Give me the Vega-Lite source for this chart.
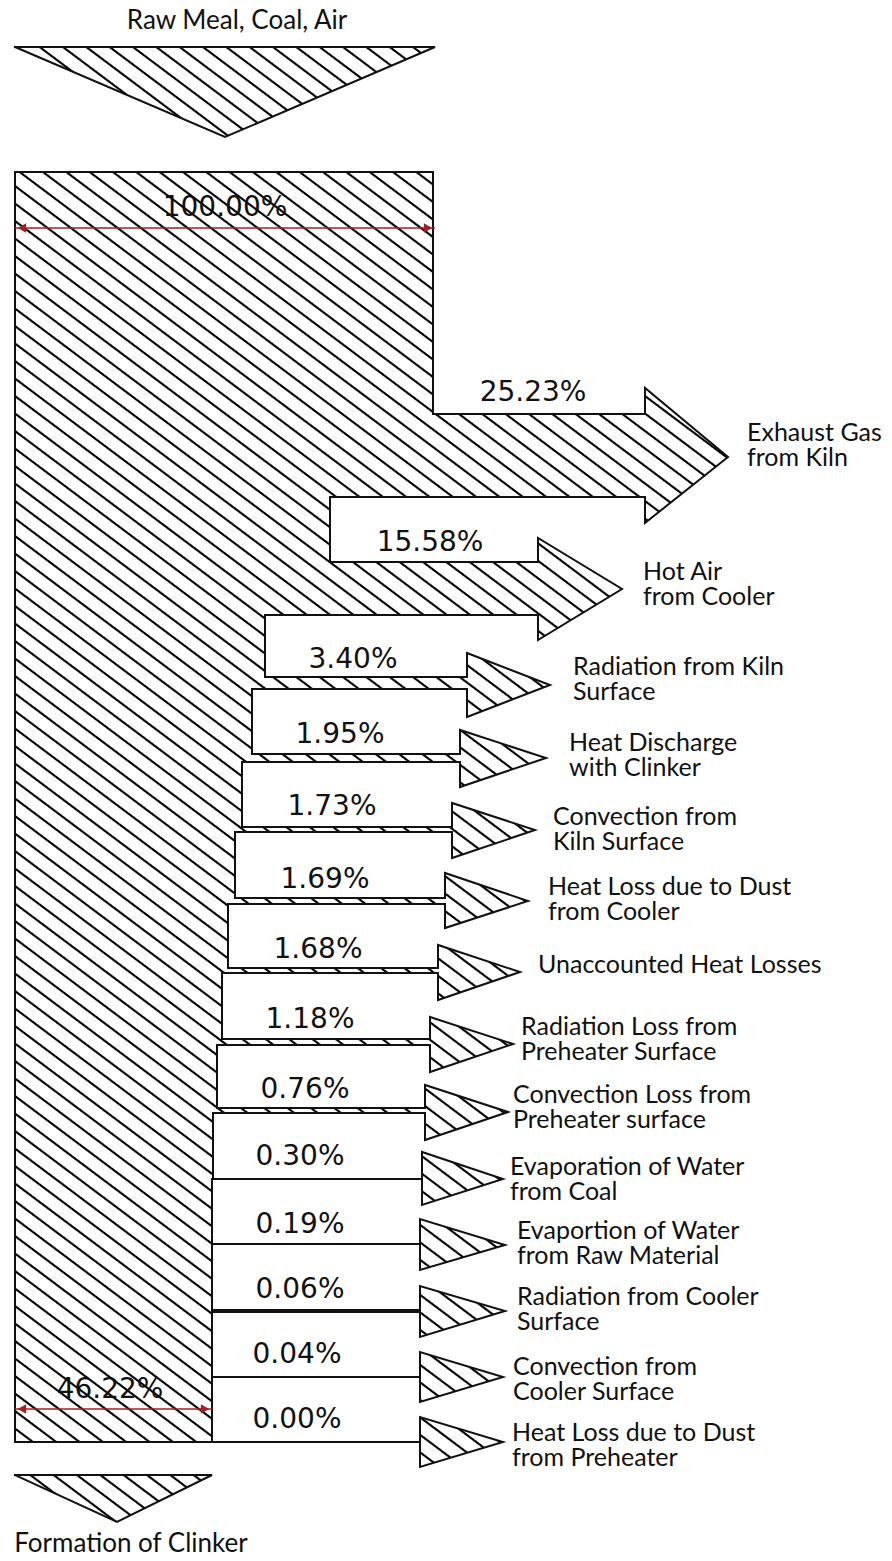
{
"$schema": "https://vega.github.io/schema/vega-lite/v6.json",
"width": 892,
"height": 1561,
"autosize": {"type": "none"},
"padding": 0,
"background": "white",
"config": {"view": {"stroke": null}},
"datasets": {
"outline": [
{"seq":1,"part":"input","px":15,"py":47},{"seq":2,"part":"input","px":435,"py":47},{"seq":3,"part":"input","px":225,"py":137},{"seq":4,"part":"input","px":15,"py":47},
{"seq":5,"part":"gap","px":null,"py":null},
{"seq":6,"part":"kiln","px":15,"py":172},{"seq":7,"part":"kiln","px":433,"py":172},{"seq":8,"part":"kiln","px":433,"py":414},{"seq":9,"part":"kiln","px":645,"py":414},{"seq":10,"part":"kiln","px":645,"py":388},{"seq":11,"part":"kiln","px":728,"py":457},{"seq":12,"part":"kiln","px":645,"py":523},{"seq":13,"part":"kiln","px":645,"py":497},
{"seq":14,"part":"kiln","px":330,"py":497},{"seq":15,"part":"kiln","px":330,"py":562},{"seq":16,"part":"kiln","px":538,"py":562},{"seq":17,"part":"kiln","px":538,"py":538},{"seq":18,"part":"kiln","px":622,"py":589},{"seq":19,"part":"kiln","px":538,"py":640},{"seq":20,"part":"kiln","px":538,"py":615},
{"seq":21,"part":"kiln","px":265,"py":615},{"seq":22,"part":"kiln","px":265,"py":677},{"seq":23,"part":"kiln","px":467,"py":677},{"seq":24,"part":"kiln","px":467,"py":653},{"seq":25,"part":"kiln","px":550,"py":685},{"seq":26,"part":"kiln","px":467,"py":717},{"seq":27,"part":"kiln","px":467,"py":689},
{"seq":28,"part":"kiln","px":252,"py":689},{"seq":29,"part":"kiln","px":252,"py":754},{"seq":30,"part":"kiln","px":460,"py":754},{"seq":31,"part":"kiln","px":460,"py":730},{"seq":32,"part":"kiln","px":546,"py":758},{"seq":33,"part":"kiln","px":460,"py":787},{"seq":34,"part":"kiln","px":460,"py":762},
{"seq":35,"part":"kiln","px":242,"py":762},{"seq":36,"part":"kiln","px":242,"py":827},{"seq":37,"part":"kiln","px":452,"py":827},{"seq":38,"part":"kiln","px":452,"py":803},{"seq":39,"part":"kiln","px":535,"py":830},{"seq":40,"part":"kiln","px":452,"py":858},{"seq":41,"part":"kiln","px":452,"py":832},
{"seq":42,"part":"kiln","px":235,"py":832},{"seq":43,"part":"kiln","px":235,"py":898},{"seq":44,"part":"kiln","px":445,"py":898},{"seq":45,"part":"kiln","px":445,"py":873},{"seq":46,"part":"kiln","px":528,"py":901},{"seq":47,"part":"kiln","px":445,"py":928},{"seq":48,"part":"kiln","px":445,"py":904},
{"seq":49,"part":"kiln","px":228,"py":904},{"seq":50,"part":"kiln","px":228,"py":968},{"seq":51,"part":"kiln","px":438,"py":968},{"seq":52,"part":"kiln","px":438,"py":945},{"seq":53,"part":"kiln","px":520,"py":972},{"seq":54,"part":"kiln","px":438,"py":1000},{"seq":55,"part":"kiln","px":438,"py":973},
{"seq":56,"part":"kiln","px":222,"py":973},{"seq":57,"part":"kiln","px":222,"py":1039},{"seq":58,"part":"kiln","px":430,"py":1039},{"seq":59,"part":"kiln","px":430,"py":1017},{"seq":60,"part":"kiln","px":513,"py":1044},{"seq":61,"part":"kiln","px":430,"py":1072},{"seq":62,"part":"kiln","px":430,"py":1045},
{"seq":63,"part":"kiln","px":217,"py":1045},{"seq":64,"part":"kiln","px":217,"py":1108},{"seq":65,"part":"kiln","px":425,"py":1108},{"seq":66,"part":"kiln","px":425,"py":1085},{"seq":67,"part":"kiln","px":508,"py":1112},{"seq":68,"part":"kiln","px":425,"py":1140},{"seq":69,"part":"kiln","px":425,"py":1113},
{"seq":70,"part":"kiln","px":213,"py":1113},{"seq":71,"part":"kiln","px":213,"py":1179},{"seq":72,"part":"kiln","px":422,"py":1179},{"seq":73,"part":"kiln","px":422,"py":1152},{"seq":74,"part":"kiln","px":503,"py":1179},{"seq":75,"part":"kiln","px":422,"py":1205},{"seq":76,"part":"kiln","px":422,"py":1179},
{"seq":77,"part":"kiln","px":212,"py":1179},{"seq":78,"part":"kiln","px":212,"py":1244},{"seq":79,"part":"kiln","px":420,"py":1244},{"seq":80,"part":"kiln","px":420,"py":1219},{"seq":81,"part":"kiln","px":505,"py":1245},{"seq":82,"part":"kiln","px":420,"py":1270},{"seq":83,"part":"kiln","px":420,"py":1244},
{"seq":84,"part":"kiln","px":212,"py":1244},{"seq":85,"part":"kiln","px":212,"py":1310},{"seq":86,"part":"kiln","px":420,"py":1310},{"seq":87,"part":"kiln","px":420,"py":1286},{"seq":88,"part":"kiln","px":505,"py":1311},{"seq":89,"part":"kiln","px":420,"py":1337},{"seq":90,"part":"kiln","px":420,"py":1312},
{"seq":91,"part":"kiln","px":212,"py":1312},{"seq":92,"part":"kiln","px":212,"py":1377},{"seq":93,"part":"kiln","px":420,"py":1377},{"seq":94,"part":"kiln","px":420,"py":1352},{"seq":95,"part":"kiln","px":503,"py":1377},{"seq":96,"part":"kiln","px":420,"py":1402},{"seq":97,"part":"kiln","px":420,"py":1377},
{"seq":98,"part":"kiln","px":212,"py":1377},{"seq":99,"part":"kiln","px":212,"py":1442},{"seq":100,"part":"kiln","px":420,"py":1442},{"seq":101,"part":"kiln","px":420,"py":1417},{"seq":102,"part":"kiln","px":503,"py":1442},{"seq":103,"part":"kiln","px":420,"py":1467},{"seq":104,"part":"kiln","px":420,"py":1442},
{"seq":105,"part":"kiln","px":15,"py":1442},{"seq":106,"part":"kiln","px":15,"py":172},
{"seq":107,"part":"gap","px":null,"py":null},
{"seq":108,"part":"clinker","px":15,"py":1475},{"seq":109,"part":"clinker","px":212,"py":1475},{"seq":110,"part":"clinker","px":117,"py":1522},{"seq":111,"part":"clinker","px":15,"py":1475}
],
"flows": [
{"flow":"Exhaust Gas from Kiln","share":25.23,"label":"25.23%","vx":533,"vy":393,"name":["Exhaust Gas","from Kiln"],"lx":747,"ly":433},
{"flow":"Hot Air from Cooler","share":15.58,"label":"15.58%","vx":430,"vy":543,"name":["Hot Air","from Cooler"],"lx":643,"ly":572},
{"flow":"Radiation from Kiln Surface","share":3.40,"label":"3.40%","vx":353,"vy":660,"name":["Radiation from Kiln","Surface"],"lx":573,"ly":667},
{"flow":"Heat Discharge with Clinker","share":1.95,"label":"1.95%","vx":340,"vy":735,"name":["Heat Discharge","with Clinker"],"lx":569,"ly":743},
{"flow":"Convection from Kiln Surface","share":1.73,"label":"1.73%","vx":332,"vy":807,"name":["Convection from","Kiln Surface"],"lx":553,"ly":817},
{"flow":"Heat Loss due to Dust from Cooler","share":1.69,"label":"1.69%","vx":325,"vy":880,"name":["Heat Loss due to Dust","from Cooler"],"lx":548,"ly":887},
{"flow":"Unaccounted Heat Losses","share":1.68,"label":"1.68%","vx":318,"vy":950,"name":["Unaccounted Heat Losses"],"lx":538,"ly":965},
{"flow":"Radiation Loss from Preheater Surface","share":1.18,"label":"1.18%","vx":310,"vy":1020,"name":["Radiation Loss from","Preheater Surface"],"lx":521,"ly":1027},
{"flow":"Convection Loss from Preheater surface","share":0.76,"label":"0.76%","vx":305,"vy":1090,"name":["Convection Loss from","Preheater surface"],"lx":513,"ly":1095},
{"flow":"Evaporation of Water from Coal","share":0.30,"label":"0.30%","vx":300,"vy":1157,"name":["Evaporation of Water","from Coal"],"lx":510,"ly":1167},
{"flow":"Evaportion of Water from Raw Material","share":0.19,"label":"0.19%","vx":300,"vy":1225,"name":["Evaportion of Water","from Raw Material"],"lx":517,"ly":1231},
{"flow":"Radiation from Cooler Surface","share":0.06,"label":"0.06%","vx":300,"vy":1290,"name":["Radiation from Cooler","Surface"],"lx":517,"ly":1297},
{"flow":"Convection from Cooler Surface","share":0.04,"label":"0.04%","vx":297,"vy":1355,"name":["Convection from","Cooler Surface"],"lx":513,"ly":1367},
{"flow":"Heat Loss due to Dust from Preheater","share":0.00,"label":"0.00%","vx":297,"vy":1420,"name":["Heat Loss due to Dust","from Preheater"],"lx":512,"ly":1433}
],
"totals": [
{"stage":"Raw Meal, Coal, Air","share":100.00,"label":"100.00%","vx":225,"vy":208,"x0":15,"x1":435,"dy":228,"caption":"Raw Meal, Coal, Air","cx":237,"cy":21},
{"stage":"Formation of Clinker","share":46.22,"label":"46.22%","vx":110,"vy":1390,"x0":15,"x1":212,"dy":1409,"caption":"Formation of Clinker","cx":131,"cy":1544}
]
},
"layer": [
{
"data": {"name": "outline"},
"mark": {"type": "line", "stroke": "#111111", "strokeWidth": 2, "strokeJoin": "miter", "strokeCap": "square", "invalid": "break-paths-filter-domains",
"fill": {"gradient": "linear", "x1": 1, "y1": 0, "x2": 0.5248, "y2": 1.3108, "stops": [
{"offset":0.0031,"color":"#fff"},{"offset":0.0037,"color":"#000"},{"offset":0.0043,"color":"#000"},{"offset":0.0049,"color":"#fff"},
{"offset":0.0111,"color":"#fff"},{"offset":0.0117,"color":"#000"},{"offset":0.0123,"color":"#000"},{"offset":0.0129,"color":"#fff"},
{"offset":0.0191,"color":"#fff"},{"offset":0.0197,"color":"#000"},{"offset":0.0203,"color":"#000"},{"offset":0.0209,"color":"#fff"},
{"offset":0.0271,"color":"#fff"},{"offset":0.0277,"color":"#000"},{"offset":0.0283,"color":"#000"},{"offset":0.0289,"color":"#fff"},
{"offset":0.0351,"color":"#fff"},{"offset":0.0357,"color":"#000"},{"offset":0.0363,"color":"#000"},{"offset":0.0369,"color":"#fff"},
{"offset":0.0431,"color":"#fff"},{"offset":0.0437,"color":"#000"},{"offset":0.0443,"color":"#000"},{"offset":0.0449,"color":"#fff"},
{"offset":0.0511,"color":"#fff"},{"offset":0.0517,"color":"#000"},{"offset":0.0523,"color":"#000"},{"offset":0.0529,"color":"#fff"},
{"offset":0.0591,"color":"#fff"},{"offset":0.0597,"color":"#000"},{"offset":0.0603,"color":"#000"},{"offset":0.0609,"color":"#fff"},
{"offset":0.0671,"color":"#fff"},{"offset":0.0677,"color":"#000"},{"offset":0.0683,"color":"#000"},{"offset":0.0689,"color":"#fff"},
{"offset":0.0751,"color":"#fff"},{"offset":0.0757,"color":"#000"},{"offset":0.0763,"color":"#000"},{"offset":0.0769,"color":"#fff"},
{"offset":0.0831,"color":"#fff"},{"offset":0.0837,"color":"#000"},{"offset":0.0843,"color":"#000"},{"offset":0.0849,"color":"#fff"},
{"offset":0.0911,"color":"#fff"},{"offset":0.0917,"color":"#000"},{"offset":0.0923,"color":"#000"},{"offset":0.0929,"color":"#fff"},
{"offset":0.0991,"color":"#fff"},{"offset":0.0997,"color":"#000"},{"offset":0.1003,"color":"#000"},{"offset":0.1009,"color":"#fff"},
{"offset":0.1071,"color":"#fff"},{"offset":0.1077,"color":"#000"},{"offset":0.1083,"color":"#000"},{"offset":0.1089,"color":"#fff"},
{"offset":0.1151,"color":"#fff"},{"offset":0.1157,"color":"#000"},{"offset":0.1163,"color":"#000"},{"offset":0.1169,"color":"#fff"},
{"offset":0.1231,"color":"#fff"},{"offset":0.1237,"color":"#000"},{"offset":0.1243,"color":"#000"},{"offset":0.1249,"color":"#fff"},
{"offset":0.1311,"color":"#fff"},{"offset":0.1317,"color":"#000"},{"offset":0.1323,"color":"#000"},{"offset":0.1329,"color":"#fff"},
{"offset":0.1391,"color":"#fff"},{"offset":0.1397,"color":"#000"},{"offset":0.1403,"color":"#000"},{"offset":0.1409,"color":"#fff"},
{"offset":0.1471,"color":"#fff"},{"offset":0.1477,"color":"#000"},{"offset":0.1483,"color":"#000"},{"offset":0.1489,"color":"#fff"},
{"offset":0.1551,"color":"#fff"},{"offset":0.1557,"color":"#000"},{"offset":0.1563,"color":"#000"},{"offset":0.1569,"color":"#fff"},
{"offset":0.1631,"color":"#fff"},{"offset":0.1637,"color":"#000"},{"offset":0.1643,"color":"#000"},{"offset":0.1649,"color":"#fff"},
{"offset":0.1711,"color":"#fff"},{"offset":0.1717,"color":"#000"},{"offset":0.1723,"color":"#000"},{"offset":0.1729,"color":"#fff"},
{"offset":0.1791,"color":"#fff"},{"offset":0.1797,"color":"#000"},{"offset":0.1803,"color":"#000"},{"offset":0.1809,"color":"#fff"},
{"offset":0.1871,"color":"#fff"},{"offset":0.1877,"color":"#000"},{"offset":0.1883,"color":"#000"},{"offset":0.1889,"color":"#fff"},
{"offset":0.1951,"color":"#fff"},{"offset":0.1957,"color":"#000"},{"offset":0.1963,"color":"#000"},{"offset":0.1969,"color":"#fff"},
{"offset":0.2031,"color":"#fff"},{"offset":0.2037,"color":"#000"},{"offset":0.2043,"color":"#000"},{"offset":0.2049,"color":"#fff"},
{"offset":0.2111,"color":"#fff"},{"offset":0.2117,"color":"#000"},{"offset":0.2123,"color":"#000"},{"offset":0.2129,"color":"#fff"},
{"offset":0.2191,"color":"#fff"},{"offset":0.2197,"color":"#000"},{"offset":0.2203,"color":"#000"},{"offset":0.2209,"color":"#fff"},
{"offset":0.2271,"color":"#fff"},{"offset":0.2277,"color":"#000"},{"offset":0.2283,"color":"#000"},{"offset":0.2289,"color":"#fff"},
{"offset":0.2351,"color":"#fff"},{"offset":0.2357,"color":"#000"},{"offset":0.2363,"color":"#000"},{"offset":0.2369,"color":"#fff"},
{"offset":0.2431,"color":"#fff"},{"offset":0.2437,"color":"#000"},{"offset":0.2443,"color":"#000"},{"offset":0.2449,"color":"#fff"},
{"offset":0.2511,"color":"#fff"},{"offset":0.2517,"color":"#000"},{"offset":0.2523,"color":"#000"},{"offset":0.2529,"color":"#fff"},
{"offset":0.2591,"color":"#fff"},{"offset":0.2597,"color":"#000"},{"offset":0.2603,"color":"#000"},{"offset":0.2609,"color":"#fff"},
{"offset":0.2671,"color":"#fff"},{"offset":0.2677,"color":"#000"},{"offset":0.2683,"color":"#000"},{"offset":0.2689,"color":"#fff"},
{"offset":0.2751,"color":"#fff"},{"offset":0.2757,"color":"#000"},{"offset":0.2763,"color":"#000"},{"offset":0.2769,"color":"#fff"},
{"offset":0.2831,"color":"#fff"},{"offset":0.2837,"color":"#000"},{"offset":0.2843,"color":"#000"},{"offset":0.2849,"color":"#fff"},
{"offset":0.2911,"color":"#fff"},{"offset":0.2917,"color":"#000"},{"offset":0.2923,"color":"#000"},{"offset":0.2929,"color":"#fff"},
{"offset":0.2991,"color":"#fff"},{"offset":0.2997,"color":"#000"},{"offset":0.3003,"color":"#000"},{"offset":0.3009,"color":"#fff"},
{"offset":0.3071,"color":"#fff"},{"offset":0.3077,"color":"#000"},{"offset":0.3083,"color":"#000"},{"offset":0.3089,"color":"#fff"},
{"offset":0.3151,"color":"#fff"},{"offset":0.3157,"color":"#000"},{"offset":0.3163,"color":"#000"},{"offset":0.3169,"color":"#fff"},
{"offset":0.3231,"color":"#fff"},{"offset":0.3237,"color":"#000"},{"offset":0.3243,"color":"#000"},{"offset":0.3249,"color":"#fff"},
{"offset":0.3311,"color":"#fff"},{"offset":0.3317,"color":"#000"},{"offset":0.3323,"color":"#000"},{"offset":0.3329,"color":"#fff"},
{"offset":0.3391,"color":"#fff"},{"offset":0.3397,"color":"#000"},{"offset":0.3403,"color":"#000"},{"offset":0.3409,"color":"#fff"},
{"offset":0.3471,"color":"#fff"},{"offset":0.3477,"color":"#000"},{"offset":0.3483,"color":"#000"},{"offset":0.3489,"color":"#fff"},
{"offset":0.3551,"color":"#fff"},{"offset":0.3557,"color":"#000"},{"offset":0.3563,"color":"#000"},{"offset":0.3569,"color":"#fff"},
{"offset":0.3631,"color":"#fff"},{"offset":0.3637,"color":"#000"},{"offset":0.3643,"color":"#000"},{"offset":0.3649,"color":"#fff"},
{"offset":0.3711,"color":"#fff"},{"offset":0.3717,"color":"#000"},{"offset":0.3723,"color":"#000"},{"offset":0.3729,"color":"#fff"},
{"offset":0.3791,"color":"#fff"},{"offset":0.3797,"color":"#000"},{"offset":0.3803,"color":"#000"},{"offset":0.3809,"color":"#fff"},
{"offset":0.3871,"color":"#fff"},{"offset":0.3877,"color":"#000"},{"offset":0.3883,"color":"#000"},{"offset":0.3889,"color":"#fff"},
{"offset":0.3951,"color":"#fff"},{"offset":0.3957,"color":"#000"},{"offset":0.3963,"color":"#000"},{"offset":0.3969,"color":"#fff"},
{"offset":0.4031,"color":"#fff"},{"offset":0.4037,"color":"#000"},{"offset":0.4043,"color":"#000"},{"offset":0.4049,"color":"#fff"},
{"offset":0.4111,"color":"#fff"},{"offset":0.4117,"color":"#000"},{"offset":0.4123,"color":"#000"},{"offset":0.4129,"color":"#fff"},
{"offset":0.4191,"color":"#fff"},{"offset":0.4197,"color":"#000"},{"offset":0.4203,"color":"#000"},{"offset":0.4209,"color":"#fff"},
{"offset":0.4271,"color":"#fff"},{"offset":0.4277,"color":"#000"},{"offset":0.4283,"color":"#000"},{"offset":0.4289,"color":"#fff"},
{"offset":0.4351,"color":"#fff"},{"offset":0.4357,"color":"#000"},{"offset":0.4363,"color":"#000"},{"offset":0.4369,"color":"#fff"},
{"offset":0.4431,"color":"#fff"},{"offset":0.4437,"color":"#000"},{"offset":0.4443,"color":"#000"},{"offset":0.4449,"color":"#fff"},
{"offset":0.4511,"color":"#fff"},{"offset":0.4517,"color":"#000"},{"offset":0.4523,"color":"#000"},{"offset":0.4529,"color":"#fff"},
{"offset":0.4591,"color":"#fff"},{"offset":0.4597,"color":"#000"},{"offset":0.4603,"color":"#000"},{"offset":0.4609,"color":"#fff"},
{"offset":0.4671,"color":"#fff"},{"offset":0.4677,"color":"#000"},{"offset":0.4683,"color":"#000"},{"offset":0.4689,"color":"#fff"},
{"offset":0.4751,"color":"#fff"},{"offset":0.4757,"color":"#000"},{"offset":0.4763,"color":"#000"},{"offset":0.4769,"color":"#fff"},
{"offset":0.4831,"color":"#fff"},{"offset":0.4837,"color":"#000"},{"offset":0.4843,"color":"#000"},{"offset":0.4849,"color":"#fff"},
{"offset":0.4911,"color":"#fff"},{"offset":0.4917,"color":"#000"},{"offset":0.4923,"color":"#000"},{"offset":0.4929,"color":"#fff"},
{"offset":0.4991,"color":"#fff"},{"offset":0.4997,"color":"#000"},{"offset":0.5003,"color":"#000"},{"offset":0.5009,"color":"#fff"},
{"offset":0.5071,"color":"#fff"},{"offset":0.5077,"color":"#000"},{"offset":0.5083,"color":"#000"},{"offset":0.5089,"color":"#fff"},
{"offset":0.5151,"color":"#fff"},{"offset":0.5157,"color":"#000"},{"offset":0.5163,"color":"#000"},{"offset":0.5169,"color":"#fff"},
{"offset":0.5231,"color":"#fff"},{"offset":0.5237,"color":"#000"},{"offset":0.5243,"color":"#000"},{"offset":0.5249,"color":"#fff"},
{"offset":0.5311,"color":"#fff"},{"offset":0.5317,"color":"#000"},{"offset":0.5323,"color":"#000"},{"offset":0.5329,"color":"#fff"},
{"offset":0.5391,"color":"#fff"},{"offset":0.5397,"color":"#000"},{"offset":0.5403,"color":"#000"},{"offset":0.5409,"color":"#fff"},
{"offset":0.5471,"color":"#fff"},{"offset":0.5477,"color":"#000"},{"offset":0.5483,"color":"#000"},{"offset":0.5489,"color":"#fff"},
{"offset":0.5551,"color":"#fff"},{"offset":0.5557,"color":"#000"},{"offset":0.5563,"color":"#000"},{"offset":0.5569,"color":"#fff"},
{"offset":0.5631,"color":"#fff"},{"offset":0.5637,"color":"#000"},{"offset":0.5643,"color":"#000"},{"offset":0.5649,"color":"#fff"},
{"offset":0.5711,"color":"#fff"},{"offset":0.5717,"color":"#000"},{"offset":0.5723,"color":"#000"},{"offset":0.5729,"color":"#fff"},
{"offset":0.5791,"color":"#fff"},{"offset":0.5797,"color":"#000"},{"offset":0.5803,"color":"#000"},{"offset":0.5809,"color":"#fff"},
{"offset":0.5871,"color":"#fff"},{"offset":0.5877,"color":"#000"},{"offset":0.5883,"color":"#000"},{"offset":0.5889,"color":"#fff"},
{"offset":0.5951,"color":"#fff"},{"offset":0.5957,"color":"#000"},{"offset":0.5963,"color":"#000"},{"offset":0.5969,"color":"#fff"},
{"offset":0.6031,"color":"#fff"},{"offset":0.6037,"color":"#000"},{"offset":0.6043,"color":"#000"},{"offset":0.6049,"color":"#fff"},
{"offset":0.6111,"color":"#fff"},{"offset":0.6117,"color":"#000"},{"offset":0.6123,"color":"#000"},{"offset":0.6129,"color":"#fff"},
{"offset":0.6191,"color":"#fff"},{"offset":0.6197,"color":"#000"},{"offset":0.6203,"color":"#000"},{"offset":0.6209,"color":"#fff"},
{"offset":0.6271,"color":"#fff"},{"offset":0.6277,"color":"#000"},{"offset":0.6283,"color":"#000"},{"offset":0.6289,"color":"#fff"},
{"offset":0.6351,"color":"#fff"},{"offset":0.6357,"color":"#000"},{"offset":0.6363,"color":"#000"},{"offset":0.6369,"color":"#fff"},
{"offset":0.6431,"color":"#fff"},{"offset":0.6437,"color":"#000"},{"offset":0.6443,"color":"#000"},{"offset":0.6449,"color":"#fff"},
{"offset":0.6511,"color":"#fff"},{"offset":0.6517,"color":"#000"},{"offset":0.6523,"color":"#000"},{"offset":0.6529,"color":"#fff"},
{"offset":0.6591,"color":"#fff"},{"offset":0.6597,"color":"#000"},{"offset":0.6603,"color":"#000"},{"offset":0.6609,"color":"#fff"},
{"offset":0.6671,"color":"#fff"},{"offset":0.6677,"color":"#000"},{"offset":0.6683,"color":"#000"},{"offset":0.6689,"color":"#fff"},
{"offset":0.6751,"color":"#fff"},{"offset":0.6757,"color":"#000"},{"offset":0.6763,"color":"#000"},{"offset":0.6769,"color":"#fff"},
{"offset":0.6831,"color":"#fff"},{"offset":0.6837,"color":"#000"},{"offset":0.6843,"color":"#000"},{"offset":0.6849,"color":"#fff"},
{"offset":0.6911,"color":"#fff"},{"offset":0.6917,"color":"#000"},{"offset":0.6923,"color":"#000"},{"offset":0.6929,"color":"#fff"},
{"offset":0.6991,"color":"#fff"},{"offset":0.6997,"color":"#000"},{"offset":0.7003,"color":"#000"},{"offset":0.7009,"color":"#fff"},
{"offset":0.7071,"color":"#fff"},{"offset":0.7077,"color":"#000"},{"offset":0.7083,"color":"#000"},{"offset":0.7089,"color":"#fff"},
{"offset":0.7151,"color":"#fff"},{"offset":0.7157,"color":"#000"},{"offset":0.7163,"color":"#000"},{"offset":0.7169,"color":"#fff"},
{"offset":0.7231,"color":"#fff"},{"offset":0.7237,"color":"#000"},{"offset":0.7243,"color":"#000"},{"offset":0.7249,"color":"#fff"},
{"offset":0.7311,"color":"#fff"},{"offset":0.7317,"color":"#000"},{"offset":0.7323,"color":"#000"},{"offset":0.7329,"color":"#fff"},
{"offset":0.7391,"color":"#fff"},{"offset":0.7397,"color":"#000"},{"offset":0.7403,"color":"#000"},{"offset":0.7409,"color":"#fff"},
{"offset":0.7471,"color":"#fff"},{"offset":0.7477,"color":"#000"},{"offset":0.7483,"color":"#000"},{"offset":0.7489,"color":"#fff"},
{"offset":0.7551,"color":"#fff"},{"offset":0.7557,"color":"#000"},{"offset":0.7563,"color":"#000"},{"offset":0.7569,"color":"#fff"},
{"offset":0.7631,"color":"#fff"},{"offset":0.7637,"color":"#000"},{"offset":0.7643,"color":"#000"},{"offset":0.7649,"color":"#fff"},
{"offset":0.7711,"color":"#fff"},{"offset":0.7717,"color":"#000"},{"offset":0.7723,"color":"#000"},{"offset":0.7729,"color":"#fff"},
{"offset":0.7791,"color":"#fff"},{"offset":0.7797,"color":"#000"},{"offset":0.7803,"color":"#000"},{"offset":0.7809,"color":"#fff"},
{"offset":0.7871,"color":"#fff"},{"offset":0.7877,"color":"#000"},{"offset":0.7883,"color":"#000"},{"offset":0.7889,"color":"#fff"},
{"offset":0.7951,"color":"#fff"},{"offset":0.7957,"color":"#000"},{"offset":0.7963,"color":"#000"},{"offset":0.7969,"color":"#fff"},
{"offset":0.8031,"color":"#fff"},{"offset":0.8037,"color":"#000"},{"offset":0.8043,"color":"#000"},{"offset":0.8049,"color":"#fff"},
{"offset":0.8111,"color":"#fff"},{"offset":0.8117,"color":"#000"},{"offset":0.8123,"color":"#000"},{"offset":0.8129,"color":"#fff"},
{"offset":0.8191,"color":"#fff"},{"offset":0.8197,"color":"#000"},{"offset":0.8203,"color":"#000"},{"offset":0.8209,"color":"#fff"},
{"offset":0.8271,"color":"#fff"},{"offset":0.8277,"color":"#000"},{"offset":0.8283,"color":"#000"},{"offset":0.8289,"color":"#fff"},
{"offset":0.8351,"color":"#fff"},{"offset":0.8357,"color":"#000"},{"offset":0.8363,"color":"#000"},{"offset":0.8369,"color":"#fff"},
{"offset":0.8431,"color":"#fff"},{"offset":0.8437,"color":"#000"},{"offset":0.8443,"color":"#000"},{"offset":0.8449,"color":"#fff"},
{"offset":0.8511,"color":"#fff"},{"offset":0.8517,"color":"#000"},{"offset":0.8523,"color":"#000"},{"offset":0.8529,"color":"#fff"},
{"offset":0.8591,"color":"#fff"},{"offset":0.8597,"color":"#000"},{"offset":0.8603,"color":"#000"},{"offset":0.8609,"color":"#fff"},
{"offset":0.8671,"color":"#fff"},{"offset":0.8677,"color":"#000"},{"offset":0.8683,"color":"#000"},{"offset":0.8689,"color":"#fff"},
{"offset":0.8751,"color":"#fff"},{"offset":0.8757,"color":"#000"},{"offset":0.8763,"color":"#000"},{"offset":0.8769,"color":"#fff"},
{"offset":0.8831,"color":"#fff"},{"offset":0.8837,"color":"#000"},{"offset":0.8843,"color":"#000"},{"offset":0.8849,"color":"#fff"},
{"offset":0.8911,"color":"#fff"},{"offset":0.8917,"color":"#000"},{"offset":0.8923,"color":"#000"},{"offset":0.8929,"color":"#fff"},
{"offset":0.8991,"color":"#fff"},{"offset":0.8997,"color":"#000"},{"offset":0.9003,"color":"#000"},{"offset":0.9009,"color":"#fff"},
{"offset":0.9071,"color":"#fff"},{"offset":0.9077,"color":"#000"},{"offset":0.9083,"color":"#000"},{"offset":0.9089,"color":"#fff"},
{"offset":0.9151,"color":"#fff"},{"offset":0.9157,"color":"#000"},{"offset":0.9163,"color":"#000"},{"offset":0.9169,"color":"#fff"},
{"offset":0.9231,"color":"#fff"},{"offset":0.9237,"color":"#000"},{"offset":0.9243,"color":"#000"},{"offset":0.9249,"color":"#fff"},
{"offset":0.9311,"color":"#fff"},{"offset":0.9317,"color":"#000"},{"offset":0.9323,"color":"#000"},{"offset":0.9329,"color":"#fff"}
]}},
"encoding": {
"x": {"field": "px", "type": "quantitative", "scale": {"domain": [0, 892], "nice": false, "zero": false}, "axis": null},
"y": {"field": "py", "type": "quantitative", "scale": {"domain": [0, 1561], "nice": false, "zero": false, "reverse": true}, "axis": null},
"order": {"field": "seq", "type": "quantitative"}
}
},
{
"data": {"name": "totals"},
"mark": {"type": "rule", "color": "#a31f1f", "strokeWidth": 1.6},
"encoding": {
"x": {"field": "x0", "type": "quantitative", "scale": {"domain": [0, 892], "nice": false, "zero": false}, "axis": null},
"x2": {"field": "x1"},
"y": {"field": "dy", "type": "quantitative", "scale": {"domain": [0, 1561], "nice": false, "zero": false, "reverse": true}, "axis": null}
}
},
{
"data": {"name": "totals"},
"mark": {"type": "point", "shape": "triangle-left", "filled": true, "color": "#a31f1f", "opacity": 1, "size": 90, "xOffset": 7},
"encoding": {
"x": {"field": "x0", "type": "quantitative", "scale": {"domain": [0, 892], "nice": false, "zero": false}, "axis": null},
"y": {"field": "dy", "type": "quantitative", "scale": {"domain": [0, 1561], "nice": false, "zero": false, "reverse": true}, "axis": null}
}
},
{
"data": {"name": "totals"},
"mark": {"type": "point", "shape": "triangle-right", "filled": true, "color": "#a31f1f", "opacity": 1, "size": 90, "xOffset": -7},
"encoding": {
"x": {"field": "x1", "type": "quantitative", "scale": {"domain": [0, 892], "nice": false, "zero": false}, "axis": null},
"y": {"field": "dy", "type": "quantitative", "scale": {"domain": [0, 1561], "nice": false, "zero": false, "reverse": true}, "axis": null}
}
},
{
"data": {"name": "totals"},
"mark": {"type": "text", "font": "DejaVu Sans", "fontSize": 28, "color": "#111111", "align": "center", "baseline": "middle"},
"encoding": {
"x": {"field": "vx", "type": "quantitative", "scale": {"domain": [0, 892], "nice": false, "zero": false}, "axis": null},
"y": {"field": "vy", "type": "quantitative", "scale": {"domain": [0, 1561], "nice": false, "zero": false, "reverse": true}, "axis": null},
"text": {"field": "label"}
}
},
{
"data": {"name": "totals"},
"mark": {"type": "text", "font": "Lato", "fontSize": 26, "color": "#111111", "align": "center", "baseline": "middle"},
"encoding": {
"x": {"field": "cx", "type": "quantitative", "scale": {"domain": [0, 892], "nice": false, "zero": false}, "axis": null},
"y": {"field": "cy", "type": "quantitative", "scale": {"domain": [0, 1561], "nice": false, "zero": false, "reverse": true}, "axis": null},
"text": {"field": "caption"}
}
},
{
"data": {"name": "flows"},
"mark": {"type": "text", "font": "DejaVu Sans", "fontSize": 28, "color": "#111111", "align": "center", "baseline": "middle"},
"encoding": {
"x": {"field": "vx", "type": "quantitative", "scale": {"domain": [0, 892], "nice": false, "zero": false}, "axis": null},
"y": {"field": "vy", "type": "quantitative", "scale": {"domain": [0, 1561], "nice": false, "zero": false, "reverse": true}, "axis": null},
"text": {"field": "label"}
}
},
{
"data": {"name": "flows"},
"mark": {"type": "text", "font": "Lato", "fontSize": 25, "lineHeight": 25, "color": "#111111", "align": "left", "baseline": "middle"},
"encoding": {
"x": {"field": "lx", "type": "quantitative", "scale": {"domain": [0, 892], "nice": false, "zero": false}, "axis": null},
"y": {"field": "ly", "type": "quantitative", "scale": {"domain": [0, 1561], "nice": false, "zero": false, "reverse": true}, "axis": null},
"text": {"field": "name"}
}
}
]
}
